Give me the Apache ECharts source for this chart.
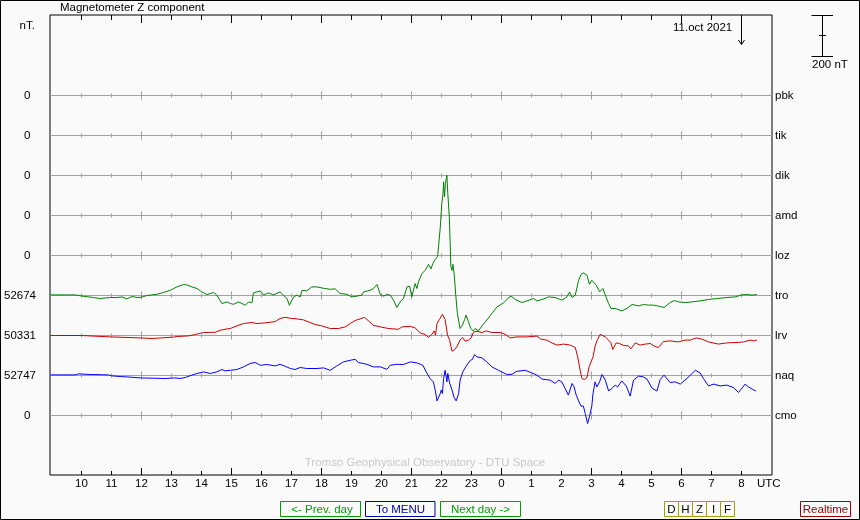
<!DOCTYPE html>
<html><head><meta charset="utf-8">
<script src="https://cdn.jsdelivr.net/npm/echarts@6/dist/echarts.min.js"></script>
<style>html,body{margin:0;padding:0;background:#fafafa}#c{width:860px;height:520px}</style>
</head><body><div id="c"></div>
<script>
// ---- data ----
const stations = ['pbk','tik','dik','amd','loz','tro','lrv','naq','cmo'];
const baselines = ['0','0','0','0','0','52674','50331','52747','0'];
const hourTicks = [10,11,12,13,14,15,16,17,18,19,20,21,22,23,24,25,26,27,28,29,30,31,32];
const majorHourTicks = [12,15,18,21,24,27,30];
const rowSpacingNT = 200; // nT between station baselines

// tro (green) : hours since 00 UT day 1, nT deviation
const troTime = [8.96,9.79,9.90,10.07,10.40,10.62,10.96,11.18,11.35,11.51,11.68,11.85,12.01,12.18,12.51,12.73,12.96,13.18,13.40,13.51,13.68,13.85,14.01,14.18,14.40,14.51,14.68,14.85,
14.96,15.07,15.12,15.23,15.35,15.46,15.57,15.68,15.73,15.85,15.96,16.07,16.23,16.40,16.62,16.73,16.85,16.93,17.07,17.18,17.29,17.35,17.51,17.68,17.85,18.07,18.29,18.46,18.62,18.85,19.01,19.18,19.35,19.40,19.62,19.73,19.85,19.96,20.07,20.18,20.29,20.40,20.51,20.62,20.73,20.85,
20.94,21.01,21.07,21.12,21.18,21.23,21.35,21.46,21.57,21.65,21.71,21.79,21.87,21.90,21.96,22.01,22.05,22.07,22.10,22.13,22.18,22.21,22.26,22.29,22.31,22.35,22.38,22.42,22.48,22.53,22.62,22.70,22.77,22.82,22.90,22.98,23.05,23.12,23.23,23.35,23.51,23.68,23.85,24.07,24.23,24.32,24.46,24.68,24.85,25.07,25.18,25.35,25.57,25.79,26.01,26.18,26.27,26.35,26.46,26.57,26.65,26.73,26.85,26.93,27.01,
27.05,27.16,27.27,27.38,27.46,27.57,27.65,27.79,28.01,28.18,28.35,28.57,28.73,28.90,29.07,29.23,29.42,29.62,29.76,29.90,30.12,30.35,30.62,30.90,31.18,31.51,31.79,32.01,32.18,32.35,32.51];
const troNT = [3,3,0,-4,-10,-15,-10,-10,-7,-17,-5,-10,-8,0,6,15,26,43,55,53,43,35,18,5,15,2,-40,-32,
-40,-44,-54,-32,-40,-49,-32,-37,13,18,23,2,13,3,18,2,-15,-49,-7,2,-7,26,23,43,43,36,31,33,10,6,-7,-3,2,18,26,35,55,5,-3,5,2,-23,-60,-32,-15,43,
46,-7,-7,60,35,68,110,126,156,133,160,180,196,243,343,460,510,568,493,560,601,510,393,260,146,126,156,110,-7,-90,-165,-148,-120,-98,-132,-165,-177,-165,-177,-152,-123,-90,-57,-37,-12,-3,-20,-35,-27,-15,-27,-20,-7,-10,-23,-7,18,-10,2,76,105,113,101,56,76,
80,51,18,35,2,-40,-65,-65,-77,-65,-45,-52,-45,-48,-48,-53,-60,-35,-25,-32,-35,-32,-27,-20,-15,-10,-7,3,5,2,5];

// lrv (red)
const lrvTime = [8.96,10.00,10.01,10.96,11.01,11.96,12.01,12.35,12.40,13.07,13.18,13.57,13.79,14.07,14.46,14.62,14.85,
14.96,15.18,15.40,15.68,15.85,16.12,16.46,16.62,16.79,16.96,17.18,17.40,17.62,17.79,18.01,18.29,18.57,18.79,18.96,19.12,19.29,19.43,19.57,19.73,19.96,20.23,20.57,20.68,20.96,
21.12,21.29,21.46,21.57,21.68,21.76,21.80,21.85,21.93,22.03,22.12,22.20,22.27,22.35,22.42,22.51,22.62,22.70,22.79,22.90,22.99,23.07,23.18,23.35,23.49,23.68,23.96,24.12,24.29,24.51,24.85,25.18,25.31,25.51,25.68,25.85,26.07,26.29,26.46,26.54,26.60,26.68,26.76,26.85,26.92,
27.05,27.12,27.20,27.29,27.35,27.46,27.57,27.65,27.71,27.82,27.93,28.07,28.23,28.31,28.46,28.62,28.79,28.96,29.09,29.23,29.40,29.62,29.90,30.12,30.29,30.49,30.68,30.90,31.23,31.51,31.85,32.07,32.29,32.40,32.51];
const lrvNT = [0,0,-5,-7,-10,-12,-15,-15,-10,-8,-5,-2,5,15,16,26,33,
35,48,60,65,60,63,70,85,91,86,83,78,65,55,48,35,35,43,60,75,83,91,73,51,43,35,31,43,46,
38,13,5,-10,6,23,2,60,80,106,80,2,-23,-78,-73,-57,-23,-10,-28,-23,-12,18,21,15,23,15,15,6,-12,-7,-7,-3,-18,-23,-37,-48,-43,-48,-60,-107,-157,-215,-220,-210,-157,
-107,-53,-20,6,10,-7,-23,-37,-70,-37,-40,-50,-52,-67,-37,-48,-43,-40,-53,-60,-30,-27,-32,-23,-23,-12,-18,-32,-43,-37,-35,-32,-23,-27,-23];

// naq (blue)
const naqTime = [8.96,9.79,9.90,10.29,10.90,11.01,11.29,11.62,11.96,12.01,12.79,13.12,13.29,13.46,13.68,13.85,14.07,14.29,14.51,14.68,14.79,
14.96,15.18,15.40,15.62,15.79,15.96,16.18,16.46,16.62,16.79,16.96,17.12,17.29,17.51,17.85,18.07,18.29,18.51,18.73,18.96,19.12,19.23,19.51,19.73,19.96,20.18,20.29,20.51,20.73,20.96,
21.18,21.38,21.49,21.62,21.73,21.79,21.85,21.90,21.96,21.99,22.03,22.07,22.12,22.18,22.21,22.27,22.35,22.42,22.49,22.57,22.62,22.71,22.82,22.96,23.03,23.10,23.18,23.35,23.51,23.68,23.90,24.18,24.35,24.51,24.79,25.01,25.18,25.35,25.62,25.79,25.90,26.01,26.12,26.23,26.35,26.42,26.49,26.57,26.65,26.73,26.79,26.87,26.93,27.01,
27.05,27.12,27.18,27.27,27.35,27.46,27.57,27.68,27.79,27.87,28.01,28.16,28.29,28.40,28.57,28.73,28.85,29.01,29.18,29.29,29.42,29.62,29.79,29.96,30.18,30.35,30.46,30.62,30.73,30.90,31.07,31.29,31.51,31.73,31.90,32.12,32.23,32.29,32.38,32.48];
const naqNT = [3,3,8,5,3,-2,-5,-8,-12,-15,-15,-12,-15,-10,2,10,18,10,18,30,23,
26,30,43,60,65,51,55,48,56,46,35,30,40,35,35,38,26,48,68,76,81,65,56,43,43,31,51,56,55,68,
63,51,18,-15,-32,-73,-127,-123,-90,-73,-90,-15,26,-32,10,-37,-73,-110,-127,-90,-23,18,46,76,80,105,93,88,68,43,26,5,6,21,26,13,2,-18,-23,-40,-23,-32,-65,-98,-40,-57,-98,-127,-153,-153,-190,-240,-207,-153,
-90,-32,-57,-32,5,-23,-77,-65,-48,-57,-27,-53,-103,-23,-3,-7,-18,-62,-78,-20,2,-35,-32,-43,-15,10,26,13,-15,-52,-43,-52,-48,-60,-85,-43,-57,-52,-70,-78];

// ---- chart ----
const FONT = '"Liberation Sans", Arial, sans-serif';
const X_MIN = 8.95, X_MAX = 8.95 + 722/30;
const Y_MAX = 402.5, Y_MIN = -1897.5;
const rowVal = i => -i * rowSpacingNT;

function traceData(times, vals, row) {
  return times.map((t, i) => [t, rowVal(row) + vals[i]]);
}

function xAx(pos, vals, len, labels) {
  return {
    type: 'value', position: pos, min: X_MIN, max: X_MAX,
    axisLine: { show: false, onZero: false }, splitLine: { show: false },
    axisTick: { show: true, inside: true, length: len, customValues: vals, lineStyle: { color: '#000', width: 1 } },
    axisLabel: labels ? { show: true, customValues: vals, margin: 3, color: '#000', fontFamily: FONT, fontSize: 11.5,
      formatter: v => String(Math.round(v) % 24) } : { show: false }
  };
}
function yAx(pos, rows, fmt, margin, align) {
  return {
    type: 'value', position: pos, min: Y_MIN, max: Y_MAX,
    axisLine: { show: false, onZero: false }, axisTick: { show: false }, splitLine: { show: false },
    axisLabel: { show: true, customValues: rows.map(rowVal), margin: margin, align: align,
      color: '#000', fontFamily: FONT, fontSize: 11.5,
      formatter: v => fmt[Math.round(-v / rowSpacingNT)] }
  };
}

// baseline grid rows with hour ticks, drawn through the axis scales
function renderRow(params, api) {
  const yv = api.value(1);
  const p0 = api.coord([X_MIN, yv]), p1 = api.coord([X_MAX, yv]);
  const y = Math.floor(p0[1]) + 0.5;
  const st = { stroke: '#a0a0a0', lineWidth: 1 };
  const children = [{ type: 'line', shape: { x1: p0[0], y1: y, x2: p1[0], y2: y }, style: st }];
  hourTicks.forEach(h => {
    const x = Math.floor(api.coord([h, yv])[0]) + 0.5;
    const half = majorHourTicks.includes(h) ? 4 : 2;
    children.push({ type: 'line', shape: { x1: x, y1: y - half, x2: x, y2: y + half }, style: st });
  });
  return { type: 'group', children };
}

const chart = echarts.init(document.getElementById('c'), null, { renderer: 'canvas' });
const txt = (x, y, text, opts) => ({ type: 'text', silent: true, z: 10,
  style: Object.assign({ x, y, text, font: '11.5px ' + FONT, fill: '#000', verticalAlign: 'middle' }, opts || {}) });
const ln = (x1, y1, x2, y2, c) => ({ type: 'line', silent: true, z: 10, shape: { x1, y1, x2, y2 }, style: { stroke: c || '#000', lineWidth: 1 } });
const box = (x, w, c) => ({ type: 'rect', silent: true, z: 10, shape: { x, y: 501.5, width: w, height: 15 }, style: { fill: null, stroke: c, lineWidth: 1 } });

const graphics = [
  { type: 'rect', silent: true, z: 10, shape: { x: 0.5, y: 0.5, width: 859, height: 519 }, style: { fill: null, stroke: '#000', lineWidth: 1 } },
  txt(60, 8, 'Magnetometer Z component'),
  txt(19.5, 26, 'nT.'),
  txt(673, 28, '11.oct 2021'),
  ln(741.5, 15, 741.5, 44.5), { type: 'polyline', silent: true, z: 10, shape: { points: [[738.5, 40], [741.5, 44.5], [744.5, 40]] }, style: { stroke: '#000', fill: null, lineWidth: 1 } },
  ln(822.5, 15.5, 822.5, 56.5), ln(811.5, 15.5, 833, 15.5), ln(811.5, 56.5, 833, 56.5), ln(819, 35.5, 826, 35.5),
  txt(812, 65, '200 nT'),
  txt(757, 484, 'UTC'),
  txt(425, 463, 'Tromso Geophysical Observatory - DTU Space', { fill: '#c8c8c8', align: 'center' }),
  box(280.5, 80, '#00a000'), txt(322, 509.5, '<- Prev. day', { fill: '#00a000', align: 'center' }),
  box(365.5, 69.5, '#0000a0'), txt(400.5, 509.5, 'To MENU', { fill: '#0000a0', align: 'center' }),
  box(440.5, 80, '#00a000'), txt(480.5, 509.5, 'Next day ->', { fill: '#00a000', align: 'center' }),
  box(800.5, 50, '#a00000'), txt(825.5, 509.5, 'Realtime', { fill: '#a00000', align: 'center' })
];
['D','H','Z','I','F'].forEach((L, i) => {
  graphics.push(box(664.5 + i * 14, 14, '#a0a000'));
  graphics.push(txt(671.5 + i * 14, 509.5, L, { align: 'center' }));
});

chart.setOption({
  backgroundColor: '#fafafa',
  animation: false,
  grid: { left: 50, top: 15, width: 722, height: 460, show: true, borderColor: '#000', borderWidth: 1, backgroundColor: 'transparent', containLabel: false },
  xAxis: [
    xAx('bottom', hourTicks, 4, true),
    xAx('bottom', majorHourTicks, 7, false),
    xAx('top', hourTicks, 5, false),
    xAx('top', majorHourTicks, 8, false)
  ],
  yAxis: [
    yAx('left', [0,1,2,3,4,8], baselines, 19.5, 'right'),
    yAx('left', [5,6,7], baselines, 14, 'right'),
    yAx('right', [0,1,2,3,4,5,6,7,8], stations, 3, 'left')
  ],
  series: [
    { type: 'custom', silent: true, z: 1, clip: false, renderItem: renderRow,
      encode: { x: 0, y: 1 }, data: stations.map((s, i) => [X_MIN, rowVal(i)]) },
    { type: 'line', name: 'tro', data: traceData(troTime, troNT, 5), showSymbol: false, lineStyle: { color: '#008000', width: 1 }, zlevel: 1, z: 5 },
    { type: 'line', name: 'lrv', data: traceData(lrvTime, lrvNT, 6), showSymbol: false, lineStyle: { color: '#cc0000', width: 1 }, zlevel: 1, z: 5 },
    { type: 'line', name: 'naq', data: traceData(naqTime, naqNT, 7), showSymbol: false, lineStyle: { color: '#0000ff', width: 1 }, zlevel: 1, z: 5 }
  ],
  graphic: graphics
});
</script>
</body></html>
